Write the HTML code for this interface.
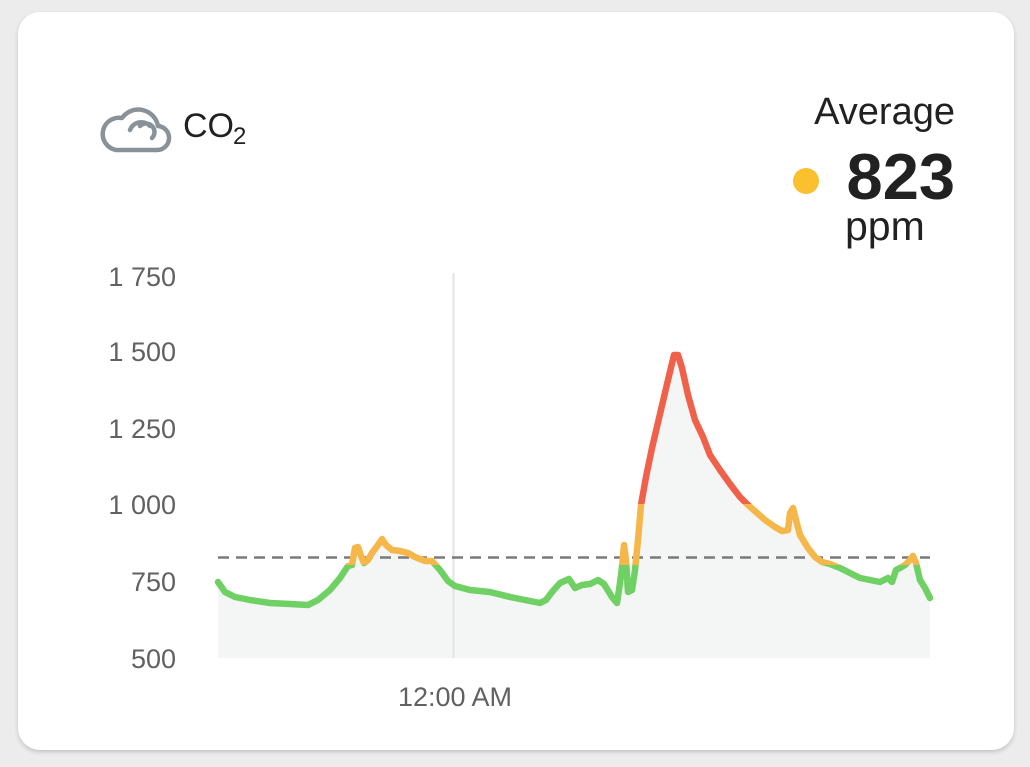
<!DOCTYPE html>
<html><head><meta charset="utf-8"><style>
html,body{margin:0;padding:0;width:1030px;height:767px;background:#ececec;overflow:hidden;font-family:"Liberation Sans",sans-serif;}
.card{position:absolute;left:18px;top:12px;width:996px;height:738px;background:#fff;border-radius:22px;box-shadow:0 2px 4px rgba(0,0,0,0.18);}
</style></head><body>
<div class="card"></div>
<svg width="1030" height="767" style="position:absolute;left:0;top:0" font-family="Liberation Sans, sans-serif">
<defs>
<clipPath id="cg"><rect x="0" y="565" width="1030" height="200"/></clipPath>
<clipPath id="co"><rect x="0" y="504" width="1030" height="61"/></clipPath>
<clipPath id="cr"><rect x="0" y="0" width="1030" height="504"/></clipPath>
<polyline id="ln" points="218,582 225,592 235,597 250,600 270,603 290,604 308,605 318,600 330,590 340,578 348,566 352,565 355,548 358,547 361,556 364,563 368,560 372,553 378,545 382,539 386,545 392,550 400,551 408,553 415,557 425,561 432,561 440,570 448,581 455,586 470,590 490,592 510,597 530,601 540,603 546,600 552,592 560,583 569,579 575,588 582,585 590,584 598,580 604,584 612,597 617,603 620,583 622,567 624,545 626,560 628,592 632,590 635,570 638,540 641,505 646,477 652,448 660,414 668,380 674,355 678,355 682,368 688,395 695,420 703,437 710,455 720,470 730,484 740,497 748,505 756,512 765,520 775,527 782,531 788,530 790,513 793,508 796,520 800,535 808,548 815,557 822,562 830,564 840,568 850,573 860,578 870,580 880,582 888,578 892,582 896,570 900,568 905,565 910,560 913,556 916,563 920,580 925,588 930,598"/>
</defs>
<path d="M116 150 H156 A12 12 0 0 0 158 126 A20 20 0 0 0 122 118 A16 16 0 0 0 116 150 Z" fill="none" stroke="#8a9299" stroke-width="4.5" stroke-linejoin="round"/>
<path d="M130 130 A12 12 0 0 1 150 126 M140 126 A8 8 0 0 1 152 138" fill="none" stroke="#8a9299" stroke-width="4.5" stroke-linecap="round"/>
<text x="183" y="137" font-size="34" fill="#212121">CO</text>
<text x="233" y="144" font-size="24" fill="#212121">2</text>
<text x="955" y="124" font-size="38" fill="#212121" text-anchor="end">Average</text>
<circle cx="806" cy="181" r="13" fill="#fbc02d"/>
<text x="955" y="199" font-size="65" font-weight="bold" fill="#212121" text-anchor="end">823</text>
<text x="845" y="240" font-size="41" fill="#212121">ppm</text>
<g font-size="27" fill="#616161" text-anchor="end">
<text x="176" y="286">1 750</text>
<text x="176" y="361">1 500</text>
<text x="176" y="438">1 250</text>
<text x="176" y="514">1 000</text>
<text x="176" y="591">750</text>
<text x="176" y="668">500</text>
</g>
<text x="455" y="706" font-size="27" fill="#616161" text-anchor="middle">12:00 AM</text>
<polygon fill="#f4f5f5" points="218,658 218,582 225,592 235,597 250,600 270,603 290,604 308,605 318,600 330,590 340,578 348,566 352,565 355,548 358,547 361,556 364,563 368,560 372,553 378,545 382,539 386,545 392,550 400,551 408,553 415,557 425,561 432,561 440,570 448,581 455,586 470,590 490,592 510,597 530,601 540,603 546,600 552,592 560,583 569,579 575,588 582,585 590,584 598,580 604,584 612,597 617,603 620,583 622,567 624,545 626,560 628,592 632,590 635,570 638,540 641,505 646,477 652,448 660,414 668,380 674,355 678,355 682,368 688,395 695,420 703,437 710,455 720,470 730,484 740,497 748,505 756,512 765,520 775,527 782,531 788,530 790,513 793,508 796,520 800,535 808,548 815,557 822,562 830,564 840,568 850,573 860,578 870,580 880,582 888,578 892,582 896,570 900,568 905,565 910,560 913,556 916,563 920,580 925,588 930,598 930,658"/>
<line x1="453.5" y1="273" x2="453.5" y2="658" stroke="#e3e3e3" stroke-width="2"/>
<line x1="218" y1="557.5" x2="930" y2="557.5" stroke="#7a7a7a" stroke-width="2.5" stroke-dasharray="11,7"/>
<g fill="none" stroke-width="6.5" stroke-linejoin="round" stroke-linecap="round">
<g clip-path="url(#cg)"><use href="#ln" stroke="#6fd163"/></g>
<g clip-path="url(#co)"><use href="#ln" stroke="#f6b74a"/></g>
<g clip-path="url(#cr)"><use href="#ln" stroke="#f1604a"/></g>
</g>
</svg>
</body></html>
